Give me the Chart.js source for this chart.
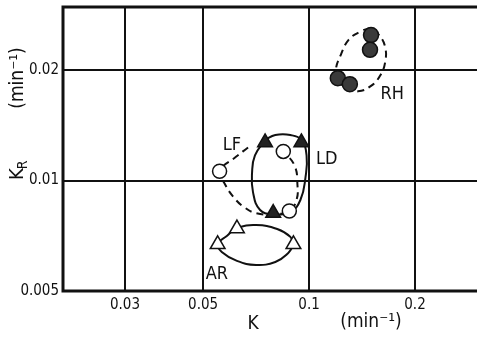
<!DOCTYPE html>
<html>
<head>
<meta charset="utf-8">
<script src="https://cdn.jsdelivr.net/npm/chart.js@4.4.0/dist/chart.umd.min.js"></script>
<style>
  html, body { margin: 0; padding: 0; background: #fff; }
</style>
</head>
<body>
<canvas id="chart" width="477" height="338"></canvas>
<script>
// Tick positions (log axes)
const xTicks = [0.03, 0.05, 0.1, 0.2];
const yTicks = [0.005, 0.01, 0.02];

// Measured points: K and KR (min-1) per group
const rhK  = [0.150, 0.149, 0.1207, 0.1306];
const rhKR = [0.0249, 0.0227, 0.0190, 0.0183];
const lfK  = [0.0557, 0.0845, 0.0879];
const lfKR = [0.0106, 0.0120, 0.00826];
const ldK  = [0.0750, 0.0951, 0.0791];
const ldKR = [0.0127, 0.0127, 0.00815];
const arK  = [0.0550, 0.0624, 0.0903];
const arKR = [0.0067, 0.0074, 0.0067];

// Hand-drawn group outlines
const rhLoopK  = [0.1207, 0.1272, 0.1377, 0.1500, 0.1591, 0.1645, 0.1645, 0.1581, 0.1500, 0.1395, 0.1297, 0.1231, 0.1191, 0.1207];
const rhLoopKR = [0.0188, 0.0178, 0.0175, 0.0181, 0.0193, 0.0210, 0.0231, 0.0249, 0.0259, 0.0254, 0.0242, 0.0220, 0.0200, 0.0188];
const ldLoopK  = [0.0750, 0.0802, 0.0885, 0.0951, 0.0984, 0.0977, 0.0945, 0.0885, 0.0791, 0.0726, 0.0693, 0.0689, 0.0702, 0.0750];
const ldLoopKR = [0.0129, 0.0133, 0.0133, 0.0129, 0.0117, 0.0102, 0.00885, 0.00821, 0.0081, 0.00831, 0.0093, 0.01054, 0.0117, 0.0129];
const lfPathK  = [0.0671, 0.0620, 0.0557, 0.0576, 0.0611, 0.0653, 0.0707, 0.0791, 0.0879, 0.0921, 0.0927, 0.0909, 0.0845];
const lfPathKR = [0.0123, 0.0116, 0.0106, 0.0098, 0.0090, 0.00847, 0.00815, 0.0081, 0.00826, 0.00885, 0.00972, 0.0110, 0.0120];
const arLoopK  = [0.0903, 0.0873, 0.0802, 0.0707, 0.0624, 0.0565, 0.0550, 0.0584, 0.0624, 0.0707, 0.0812, 0.0885, 0.0903];
const arLoopKR = [0.00667, 0.00635, 0.0060, 0.00589, 0.00604, 0.00639, 0.00672, 0.00706, 0.00742, 0.00756, 0.00738, 0.00702, 0.00667];

// Group labels and where they sit (data units)
const groupNames = ['RH', 'LF', 'LD', 'AR'];
const groupLabelK  = [0.1723, 0.0604, 0.1122, 0.0547];
const groupLabelKR = [0.01721, 0.0125, 0.01145, 0.00556];

const pts = (xs, ys) => xs.map((x, i) => ({ x: x, y: ys[i] }));
const INK = '#111';
const FONT = "'DejaVu Sans Condensed', 'DejaVu Sans', sans-serif";

Chart.defaults.font.family = FONT;
Chart.defaults.color = INK;

// frame (top/left/bottom), axis titles, group labels
const decorations = {
    id: 'decorations',
    afterDatasetsDraw(chart) {
        const ctx = chart.ctx;
        const a = chart.chartArea;
        const xs = chart.scales.x, ys = chart.scales.y;
        ctx.save();
        ctx.strokeStyle = INK;
        ctx.lineWidth = 3;
        ctx.beginPath();
        ctx.moveTo(a.right + 2, a.top);
        ctx.lineTo(a.left, a.top);
        ctx.lineTo(a.left, a.bottom);
        ctx.lineTo(a.right + 2, a.bottom);
        ctx.stroke();

        ctx.fillStyle = INK;
        ctx.textAlign = 'center';
        ctx.textBaseline = 'middle';
        ctx.font = '18px ' + FONT;
        groupNames.forEach((name, i) => {
            ctx.fillText(name, xs.getPixelForValue(groupLabelK[i]), ys.getPixelForValue(groupLabelKR[i]));
        });

        // x axis title
        ctx.font = '19px ' + FONT;
        ctx.fillText('K', 253, 324);
        ctx.fillText('(min\u207B\u00B9)', 371, 322);

        // y axis title (rotated)
        ctx.save();
        ctx.translate(18, 0);
        ctx.rotate(-Math.PI / 2);
        ctx.textAlign = 'left';
        ctx.font = '20px ' + FONT;
        ctx.fillText('K', -180, 0);
        const kw = ctx.measureText('K').width;
        ctx.font = '14px ' + FONT;
        ctx.fillText('R', -180 + kw - 1, 5);
        ctx.font = '19px ' + FONT;
        ctx.textAlign = 'center';
        ctx.fillText('(min\u207B\u00B9)', -78, 0);
        ctx.restore();
        ctx.restore();
    }
};

const markerBase = { showLine: false, borderColor: INK, borderWidth: 1.5, pointBorderColor: INK, pointBorderWidth: 1.5 };
const outlineBase = { showLine: true, pointRadius: 0, borderColor: INK, borderWidth: 2, tension: 0.45, fill: false };

new Chart(document.getElementById('chart'), {
    type: 'scatter',
    data: {
        datasets: [
            { ...markerBase, label: 'RH', data: pts(rhK, rhKR), pointStyle: 'circle', pointRadius: 7.5, pointBackgroundColor: '#3a3a3a' },
            { ...markerBase, label: 'LF', data: pts(lfK, lfKR), pointStyle: 'circle', pointRadius: 7, pointBackgroundColor: '#fff' },
            { ...markerBase, label: 'LD', data: pts(ldK, ldKR), pointStyle: 'triangle', pointRadius: 8.5, pointBackgroundColor: '#222' },
            { ...markerBase, label: 'AR', data: pts(arK, arKR), pointStyle: 'triangle', pointRadius: 8.5, pointBackgroundColor: '#fff' },
            { ...outlineBase, label: 'RH outline', data: pts(rhLoopK, rhLoopKR), borderDash: [7, 5] },
            { ...outlineBase, label: 'LF outline', data: pts(lfPathK, lfPathKR), borderDash: [7, 5] },
            { ...outlineBase, label: 'LD outline', data: pts(ldLoopK, ldLoopKR) },
            { ...outlineBase, label: 'AR outline', data: pts(arLoopK, arLoopKR) }
        ]
    },
    options: {
        responsive: false,
        animation: false,
        layout: { autoPadding: false, padding: { top: 7, right: 0, left: 0, bottom: 0 } },
        plugins: { legend: { display: false }, tooltip: { enabled: false } },
        scales: {
            x: {
                type: 'logarithmic',
                min: 0.02,
                max: 0.3,
                afterBuildTicks: (s) => { s.ticks = xTicks.map(v => ({ value: v })); },
                afterFit: (s) => { s.height = 47; s.paddingLeft = 0; s.paddingRight = 0; },
                grid: { color: INK, lineWidth: 2, drawTicks: false },
                border: { display: false },
                ticks: { padding: 5, font: { size: 15 }, color: INK, autoSkip: false, maxRotation: 0, callback: (v) => String(v) }
            },
            y: {
                type: 'logarithmic',
                min: 0.005,
                max: 0.0297,
                afterBuildTicks: (s) => { s.ticks = yTicks.map(v => ({ value: v })); },
                afterFit: (s) => { s.width = 63; s.paddingTop = 0; s.paddingBottom = 0; },
                grid: { color: INK, lineWidth: 2, drawTicks: false },
                border: { display: false },
                ticks: { padding: 4, font: { size: 15 }, color: INK, autoSkip: false, callback: (v) => String(v) }
            }
        }
    },
    plugins: [decorations]
});
</script>
</body>
</html>
